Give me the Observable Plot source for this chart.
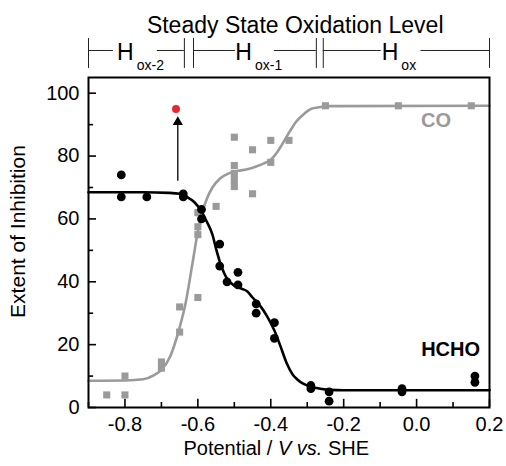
<!DOCTYPE html>
<html><head><meta charset="utf-8">
<script src="https://cdn.jsdelivr.net/npm/d3@7"></script>
<script src="https://cdn.jsdelivr.net/npm/@observablehq/plot@0.6"></script>
<style>body{margin:0;background:#fff}</style>
</head><body><div id="chart"></div>
<script>
// HCHO measured points (potential V vs SHE, extent of inhibition)
const hchoX = [-0.81,-0.81,-0.74,-0.64,-0.64,-0.59,-0.59,-0.54,-0.54,-0.52,-0.49,-0.49,-0.44,-0.44,-0.39,-0.39,-0.29,-0.29,-0.24,-0.24,-0.04,-0.04,0.16,0.16];
const hchoY = [74,67,67,68,67,63,60,52,45,40,43,39,33,30,27,22,7,6,5,2,6,5,10,8];
// CO measured points
const coX = [-0.85,-0.8,-0.8,-0.7,-0.7,-0.65,-0.65,-0.6,-0.6,-0.6,-0.6,-0.55,-0.5,-0.5,-0.5,-0.5,-0.5,-0.45,-0.45,-0.4,-0.4,-0.35,-0.25,-0.05,0.15];
const coY = [4,4,10,12.5,14.5,24,32,35,55,57.5,62,64,70.3,72.5,74.5,77,86,68,82,78,85,85,96,96,96];
// fitted curves
const hchoFitX = [-0.9,-0.75,-0.68,-0.65,-0.63,-0.61,-0.59,-0.575,-0.56,-0.55,-0.538,-0.52,-0.5,-0.48,-0.465,-0.45,-0.43,-0.41,-0.39,-0.375,-0.356,-0.34,-0.328,-0.31,-0.292,-0.26,-0.237,-0.2,0.2];
const hchoFitY = [68.5,68.5,68.3,68,67,65.4,62.4,59,55,50.5,45.8,41,38.8,37.8,37,35,32.5,29,24.5,20,14,10.5,9,7.5,6.7,5.9,5.6,5.5,5.5];
const coFitX = [-0.9,-0.8,-0.75,-0.72,-0.7,-0.675,-0.65,-0.634,-0.616,-0.6,-0.587,-0.575,-0.56,-0.54,-0.515,-0.49,-0.465,-0.44,-0.42,-0.4,-0.385,-0.37,-0.347,-0.33,-0.31,-0.29,-0.264,-0.25,0.2];
const coFitY = [8.5,8.6,9,10.3,12,16.5,25.5,33,45,56,62.5,66.5,70,72.8,74.5,75.3,75.8,76.7,77.6,78.8,80.8,83.5,88,91,93.3,95,95.6,95.9,96];
// highlighted point and arrow
const redX = [-0.66];
const redY = [95];
const arrowX = [-0.655];
// tick values
const xTickMajor = [-0.8,-0.6,-0.4,-0.2,0.0,0.2];
const xTickMinor = [-0.9,-0.7,-0.5,-0.3,-0.1,0.1];
const yTickMajor = [0,20,40,60,80,100];
const yTickMinor = [10,30,50,70,90];
// oxidation-level brackets (V vs SHE)
const bracketBars = [-0.9,-0.637,-0.612,-0.275,-0.256,0.2];
const bracketSegStart = [-0.9,-0.711,-0.612,-0.390,-0.256,0.012];
const bracketSegEnd = [-0.8315,-0.637,-0.497,-0.275,-0.097,0.2];
const bracketHEnd = [-0.776,-0.4515,-0.05];
const bracketSub = ["ox-2","ox-1","ox"];

const hcho = hchoX.map((x,i)=>({x, y:hchoY[i]}));
const co = coX.map((x,i)=>({x, y:coY[i]}));
const hchoFit = hchoFitX.map((x,i)=>({x, y:hchoFitY[i]}));
const coFit = coFitX.map((x,i)=>({x, y:coFitY[i]}));
const red = redX.map((x,i)=>({x, y:redY[i]}));
const segs = bracketSegStart.map((x1,i)=>({x1, x2:bracketSegEnd[i]}));
const hl = bracketHEnd.map((x,i)=>({x, sub:bracketSub[i]}));

const GRAY = "#9a9a9a";
const FONT = "'Liberation Sans', Arial, Helvetica, sans-serif";

const chart = Plot.plot({
  width: 506, height: 466,
  marginLeft: 88, marginRight: 17, marginTop: 77, marginBottom: 59,
  x: {domain: [-0.9, 0.2]},
  y: {domain: [0, 105]},
  style: {fontFamily: FONT, fontSize: "20px", color: "#000", background: "#fff"},
  marks: [
    Plot.axisX(xTickMajor, {tickSize: 0, tickPadding: 9, tickFormat: d => d.toFixed(1), fontSize: 20, label: null}),
    Plot.axisY(yTickMajor, {tickSize: 0, tickPadding: 9, fontSize: 20, label: null}),
    Plot.ruleX(xTickMajor, {x: d => d, y1: 0, y2: 2.6, stroke: "#000", strokeWidth: 1.6}),
    Plot.ruleX(xTickMinor, {x: d => d, y1: 0, y2: 1.6, stroke: "#000", strokeWidth: 1.6}),
    Plot.ruleY(yTickMajor, {y: d => d, x1: -0.9, x2: -0.878, stroke: "#000", strokeWidth: 1.6}),
    Plot.ruleY(yTickMinor, {y: d => d, x1: -0.9, x2: -0.886, stroke: "#000", strokeWidth: 1.6}),
    Plot.line(coFit, {x: "x", y: "y", stroke: GRAY, strokeWidth: 2.6, curve: "monotone-x"}),
    Plot.line(hchoFit, {x: "x", y: "y", stroke: "#000", strokeWidth: 2.6, curve: "monotone-x"}),
    Plot.dot(co, {x: "x", y: "y", symbol: "square", fill: GRAY, r: 4}),
    Plot.dot(hcho, {x: "x", y: "y", fill: "#000", r: 4.4}),
    Plot.ruleX(arrowX, {x: d => d, y1: 72, y2: 90, stroke: "#000", strokeWidth: 1.3}),
    Plot.dot(arrowX, {x: d => d, y: 90.8, symbol: "triangle", fill: "#000", r: 3.8}),
    Plot.dot(red, {x: "x", y: "y", fill: "#e8282c", r: 4}),
    Plot.text(["CO"], {x: 0.012, y: 89.1, text: d => d, textAnchor: "start", lineAnchor: "bottom", fill: GRAY, fontWeight: "bold", fontSize: 20}),
    Plot.text(["HCHO"], {x: 0.174, y: 16.5, text: d => d, textAnchor: "end", lineAnchor: "bottom", fill: "#000", fontWeight: "bold", fontSize: 20}),
    // frame
    Plot.frame({stroke: "#000", strokeWidth: 2}),
    // top annotation
    Plot.text(["Steady State Oxidation Level"], {x: -0.333, y: 119.3, text: d => d, lineAnchor: "bottom", fontSize: 23}),
    Plot.ruleX(bracketBars, {x: d => d, y1: 107.9, y2: 117.4, stroke: "#222", strokeWidth: 1}),
    Plot.ruleY(segs, {x1: "x1", x2: "x2", y: 113.6, stroke: "#222", strokeWidth: 1}),
    Plot.text(hl, {x: "x", y: 110.6, text: () => "H", textAnchor: "end", lineAnchor: "bottom", fontSize: 23}),
    Plot.text(hl, {x: "x", y: 107.5, text: "sub", textAnchor: "start", lineAnchor: "bottom", dx: 3, fontSize: 14}),
    // axis titles
    Plot.text(["Potential / V vs. SHE"], {x: -0.385, y: -15.1, text: d => d, lineAnchor: "bottom", fontSize: 20}),
    Plot.text(["Extent of Inhibition"], {x: -0.9, y: 56, dx: -70, text: d => d, rotate: -90, fontSize: 21})
  ]
});

// italic V and vs. in the x-axis title
d3.select(chart).selectAll("text").filter(function(){ return this.textContent === "Potential / V vs. SHE"; })
  .each(function(){
    const t = d3.select(this);
    t.text(null);
    t.append("tspan").text("Potential / ");
    t.append("tspan").attr("font-style","italic").text("V");
    t.append("tspan").text(" ");
    t.append("tspan").attr("font-style","italic").text("vs.");
    t.append("tspan").text(" SHE");
  });

document.getElementById("chart").appendChild(chart);
</script>
</body></html>
